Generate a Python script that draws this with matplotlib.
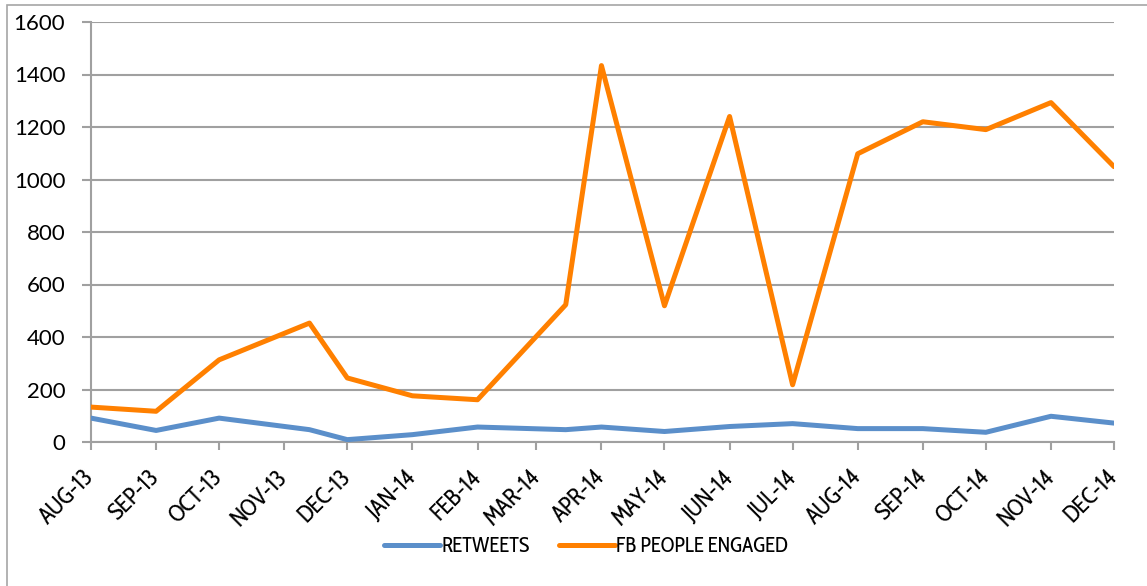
import matplotlib
matplotlib.use("Agg")
import matplotlib.pyplot as plt
from matplotlib.patches import Rectangle
import numpy as np

# data
dates = ["2013-08-01", "2013-09-01", "2013-10-01", "2013-11-13", "2013-12-01",
         "2014-01-01", "2014-02-01", "2014-03-15", "2014-04-01", "2014-05-01",
         "2014-06-01", "2014-07-01", "2014-08-01", "2014-09-01", "2014-10-01",
         "2014-11-01", "2014-12-01"]
retweets = [91, 44, 91, 47, 9, 28, 57, 47, 57, 40, 59, 70, 51, 51, 37, 98, 72]
fb_engaged = [133, 117, 313, 453, 244, 176, 161, 523, 1434, 519, 1240, 218,
              1098, 1220, 1190, 1293, 1049]
tick_months = ["2013-08-01", "2013-09-01", "2013-10-01", "2013-11-01", "2013-12-01",
               "2014-01-01", "2014-02-01", "2014-03-01", "2014-04-01", "2014-05-01",
               "2014-06-01", "2014-07-01", "2014-08-01", "2014-09-01", "2014-10-01",
               "2014-11-01", "2014-12-01"]
tick_labels = ["AUG-13", "SEP-13", "OCT-13", "NOV-13", "DEC-13", "JAN-14", "FEB-14",
               "MAR-14", "APR-14", "MAY-14", "JUN-14", "JUL-14", "AUG-14", "SEP-14",
               "OCT-14", "NOV-14", "DEC-14"]
yticks = [0, 200, 400, 600, 800, 1000, 1200, 1400, 1600]

x = np.array(dates, dtype="datetime64[D]")
xt = np.array(tick_months, dtype="datetime64[D]")

BLUE = "#5B8FCA"
ORANGE = "#FF8000"
GRID = "#A0A0A0"
NARROW = ["Cabin Condensed", "Lato", "DejaVu Sans"]

fig = plt.figure(figsize=(11.47, 5.86), dpi=100)
ax = fig.add_axes([91 / 1147, 1 - 442 / 586, (1114 - 91) / 1147, (442 - 22) / 586])

ax.plot(x, retweets, color=BLUE, lw=3.6, solid_joinstyle="round",
        solid_capstyle="round", label="RETWEETS", zorder=3)
ax.plot(x, fb_engaged, color=ORANGE, lw=3.6, solid_joinstyle="round",
        solid_capstyle="round", label="FB PEOPLE ENGAGED", zorder=3)

ax.set_xlim(xt[0], xt[-1])
ax.set_ylim(0, 1600)
ax.set_yticks(yticks)
ax.set_yticklabels([str(v) for v in yticks], fontsize=16, family=["Lato", "DejaVu Sans"])
ax.set_xticks(xt)
ax.set_xticklabels(tick_labels, rotation=45, ha="right", va="center",
                   rotation_mode="anchor", fontsize=17, family=NARROW)

ax.grid(axis="y", color=GRID, lw=1.5)
ax.set_axisbelow(True)
for side in ("top", "right"):
    ax.spines[side].set_visible(False)
for side in ("left", "bottom"):
    ax.spines[side].set_color(GRID)
    ax.spines[side].set_linewidth(1.5)
ax.tick_params(axis="y", direction="out", length=6.5, width=1.5, color=GRID, pad=12)
ax.tick_params(axis="x", direction="out", length=6, width=1.5, color=GRID, pad=17)

leg = ax.legend(loc="center", bbox_to_anchor=(586 / 1147, 1 - 546 / 586),
                bbox_transform=fig.transFigure, ncol=2, frameon=False,
                handlelength=2.7, handletextpad=0.05, columnspacing=1.4,
                prop={"family": NARROW, "size": 15})

# chart area border
fig.patches.append(Rectangle((7 / 1147, -0.1), 1.2, 1.1 - 5 / 586,
                             transform=fig.transFigure, fill=False,
                             edgecolor="#A6A6A6", lw=1.2, clip_on=False))

fig.savefig("out.png", dpi=100)
